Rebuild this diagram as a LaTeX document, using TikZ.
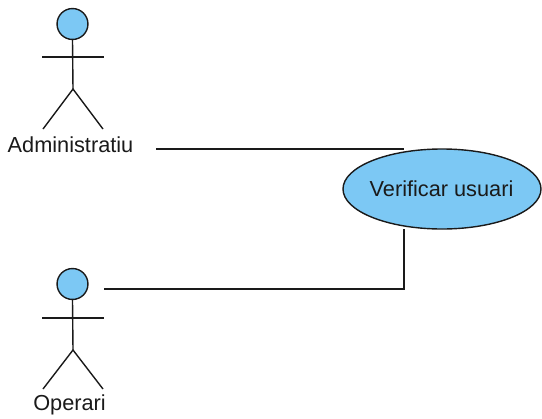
\documentclass[tikz,border=0pt]{standalone}
\usepackage{fontspec}
\setmainfont{Liberation Sans}
\definecolor{fillblue}{HTML}{7CC8F4}
\definecolor{inkline}{HTML}{1A1A1A}
\tikzset{
  every picture/.style={x=0.75pt,y=-0.75pt},
  head/.style={circle,draw=inkline,fill=fillblue,line width=1.05pt,minimum size=23.2pt,inner sep=0pt},
  limb/.style={draw=inkline,line width=1.05pt},
  link/.style={draw=inkline,line width=1.05pt},
  usecase/.style={ellipse,draw=inkline,fill=fillblue,line width=1.05pt,minimum width=148.5pt,minimum height=60pt,inner sep=0pt},
  txt/.style={font=\fontsize{16.3}{19}\selectfont,text=inkline,inner sep=0pt}
}
\usetikzlibrary{shapes.geometric}
\begin{document}
\begin{tikzpicture}
\useasboundingbox (0,0) rectangle (542,418);
% Actor 1
\node[head] (h1) at (72.5,24) {};
\coordinate (hip1) at (73,89);
\coordinate (la1) at (42,57);
\coordinate (ra1) at (104,57);
\coordinate (ll1) at (43,129);
\coordinate (rl1) at (103,129);
\draw[limb] (h1.south) -- (hip1);
\draw[limb] (la1) -- (ra1);
\draw[limb] (ll1) -- (hip1) -- (rl1);
\node[txt] (admin) at (70.5,145) {Administratiu};
% Actor 2
\node[head] (h2) at (72.5,284) {};
\coordinate (hip2) at (73,350);
\coordinate (la2) at (42,318);
\coordinate (ra2) at (104,318);
\coordinate (ll2) at (43,389);
\coordinate (rl2) at (103,389);
\draw[limb] (h2.south) -- (hip2);
\draw[limb] (la2) -- (ra2);
\draw[limb] (ll2) -- (hip2) -- (rl2);
\node[txt] (oper) at (69.5,405) {Operari};
% Use case
\coordinate (s1) at (156,149);
\coordinate (e1) at (404,149);
\coordinate (s2) at (104,289);
\coordinate (k2) at (404,289);
\coordinate (e2) at (404,229);
\draw[link] (s1) -- (e1);
\draw[link] (s2) -- (k2) -- (e2);
\node[usecase] (uc) at (442,189) {};
\node[txt] (uct) at (441.5,189) {Verificar usuari};
\end{tikzpicture}
\end{document}
